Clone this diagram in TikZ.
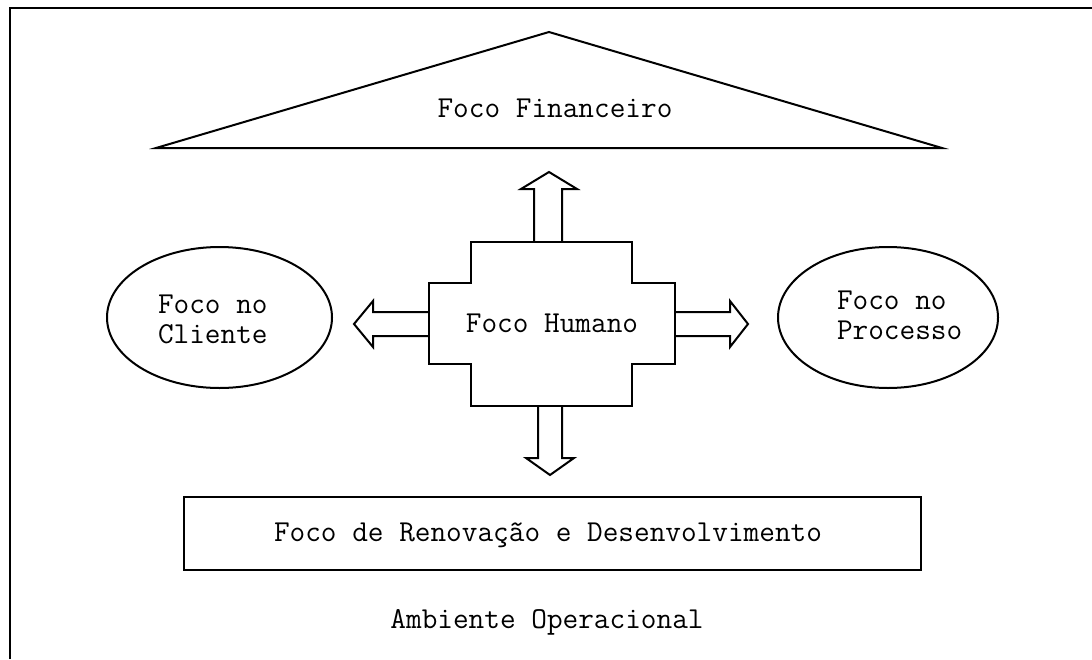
\documentclass[tikz,border=0pt]{standalone}
\begin{document}
\begin{tikzpicture}[x=0.5pt,y=-0.5pt,
  line width=1pt, line join=miter,
  lbl/.style={inner sep=0pt, font=\ttfamily\fontsize{15.2}{15}\selectfont},
  shp/.style={draw=black, line width=1pt}]
\useasboundingbox (0,0) rectangle (1092,659);
% outer frame (top and left edges visible)
\draw[shp] (10,659) -- (10,8) -- (1092,8);
% triangle
\draw[shp] (156,148) -- (549,32) -- (942,148) -- cycle;
\node[lbl] (fin) at (555,108) {Foco Financeiro};
% central cross
\draw[shp] (471,242) -- (632,242) -- (632,283) -- (675,283) -- (675,364) -- (632,364) -- (632,406) -- (471,406) -- (471,364) -- (429,364) -- (429,283) -- (471,283) -- cycle;
\node[lbl] (hum) at (552,323) {Foco Humano};
% block arrows
\draw[shp] (534,242) -- (534,189) -- (521,189) -- (549,172) -- (577,189) -- (562,189) -- (562,242);
\draw[shp] (538,406) -- (538,458) -- (526,458) -- (550,475) -- (574,458) -- (562,458) -- (562,406);
\draw[shp] (429,312) -- (373,312) -- (373,301) -- (354,324) -- (373,347) -- (373,336) -- (429,336);
\draw[shp] (675,312) -- (730,312) -- (730,301) -- (748,324) -- (730,347) -- (730,336) -- (675,336);
% ellipses
\draw[shp] (219.5,317.5) ellipse [x radius=112.5, y radius=70.5];
\node[lbl, anchor=west, align=left] (cli) at (157,319) {Foco no\\Cliente};
\draw[shp] (888,317.5) ellipse [x radius=110, y radius=70.5];
\node[lbl, anchor=west, align=left] (pro) at (836,315) {Foco no\\Processo};
% bottom rectangle
\draw[shp] (184,497) rectangle (921,570);
\node[lbl] (ren) at (548,535) {Foco de Renovação e Desenvolvimento};
\node[lbl] (amb) at (547,622) {Ambiente Operacional};
\end{tikzpicture}
\end{document}
